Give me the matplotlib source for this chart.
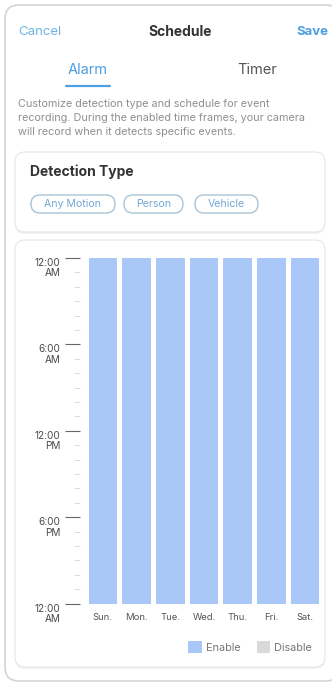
import matplotlib
matplotlib.use('Agg')
import matplotlib.pyplot as plt
from matplotlib.patches import FancyBboxPatch

plt.rcParams['font.family'] = ['Inter', 'DejaVu Sans']

# datos del horario (horas por dia)
days = ['Sun.', 'Mon.', 'Tue.', 'Wed.', 'Thu.', 'Fri.', 'Sat.']
enable_start = [0, 0, 0, 0, 0, 0, 0]
enable_hours = [24, 24, 24, 24, 24, 24, 24]
disable_hours = [0, 0, 0, 0, 0, 0, 0]
hour_ticks = [0, 6, 12, 18, 24]
hour_labels = ['12:00\nAM', '6:00\nAM', '12:00\nPM', '6:00\nPM', '12:00\nAM']
detection_types = ['Any Motion', 'Person', 'Vehicle']

W, H = 332, 684
BLUE = '#4d9fe0'
ENABLE = '#a9c8f8'
DISABLE = '#d9d9d9'

fig = plt.figure(figsize=(W / 100, H / 100), dpi=100)
fig.patch.set_facecolor('white')


def fx(x):
    return x / W


def fy(y):
    return 1 - y / H


def card(x0, y0, x1, y1, r, ec='#e6e6e6', lw=0.8, shadow=True, z=-2):
    # rectangulo redondeado en pixeles (origen arriba)
    if shadow:
        s = FancyBboxPatch((x0 / 100, (H - y1 - 2) / 100), (x1 - x0) / 100, (y1 - y0) / 100,
                           boxstyle='round,pad=0,rounding_size=%f' % (r / 100),
                           transform=fig.dpi_scale_trans, fc='#f2f2f2', ec='none', zorder=z - 0.5)
        fig.patches.append(s)
    p = FancyBboxPatch((x0 / 100, (H - y1) / 100), (x1 - x0) / 100, (y1 - y0) / 100,
                       boxstyle='round,pad=0,rounding_size=%f' % (r / 100),
                       transform=fig.dpi_scale_trans, fc='white', ec=ec, lw=lw, zorder=z)
    fig.patches.append(p)


# marco exterior
card(5, 5, 340, 681, 14, ec='#d4d4d4', lw=1.2, shadow=False, z=-5)
# tarjetas
card(15, 152, 325, 232, 10)
card(15, 240, 325, 667, 10)

# cabecera
fig.text(fx(18), fy(32), 'Cancel', color='#6fb4e8', fontsize=9.5, va='center', ha='left')
fig.text(fx(180), fy(32), 'Schedule', color='#333333', fontsize=10, fontweight='bold', va='center', ha='center')
fig.text(fx(328), fy(32), 'Save', color=BLUE, fontsize=9.5, fontweight='bold', va='center', ha='right')
fig.text(fx(88), fy(70), 'Alarm', color=BLUE, fontsize=10.5, va='center', ha='center')
fig.text(fx(257), fy(70), 'Timer', color='#555555', fontsize=10.5, va='center', ha='center')
fig.add_artist(plt.Line2D([fx(66), fx(110)], [fy(86), fy(86)], color=BLUE, lw=1.6, solid_capstyle='round'))

desc = ['Customize detection type and schedule for event',
        'recording. During the enabled time frames, your camera',
        'will record when it detects specific events.']
for i, line in enumerate(desc):
    fig.text(fx(18), fy(104 + 14 * i), line, color='#8f8f8f', fontsize=7.8, va='center', ha='left')

fig.text(fx(30), fy(172), 'Detection Type', color='#333333', fontsize=10, fontweight='bold', va='center', ha='left')

pill_x = [(31, 115), (124, 183), (195, 258)]
for (a, b), name in zip(pill_x, detection_types):
    p = FancyBboxPatch((a / 100, (H - 213) / 100), (b - a) / 100, 18 / 100,
                       boxstyle='round,pad=0,rounding_size=0.09',
                       transform=fig.dpi_scale_trans, fc='white', ec='#a8c4d4', lw=1.0, zorder=1)
    fig.patches.append(p)
    fig.text(fx((a + b) / 2), fy(204), name, color='#72a9d6', fontsize=7.6, va='center', ha='center')

# grafico del horario
ax = fig.add_axes([fx(86), fy(603.5), 236 / W, 345.5 / H], zorder=2)
x = list(range(len(days)))
ax.bar(x, enable_hours, bottom=enable_start, width=0.85, color=ENABLE, label='Enable')
ax.bar(x, disable_hours, bottom=enable_hours, width=0.85, color=DISABLE, label='Disable')
ax.set_xlim(-0.5, len(days) - 0.5)
ax.set_ylim(24, 0)
ax.patch.set_visible(False)
for s in ['top', 'right', 'bottom']:
    ax.spines[s].set_visible(False)
ax.spines['left'].set_visible(False)
ax.spines['left'].set_position(('outward', 4.3))

ax.set_yticks(hour_ticks)
ax.set_yticklabels(hour_labels, fontsize=7.2, color='#4a4a4a', linespacing=1.05)
for lbl in ax.get_yticklabels():
    lbl.set_verticalalignment('top')
ax.set_yticks(range(25), minor=True)
ax.tick_params(axis='y', which='major', length=10.5, width=0.8, color='#666666', pad=3.5)
ax.tick_params(axis='y', which='minor', length=4, width=0.6, color='#d8d8d8')

ax.set_xticks(x)
ax.set_xticklabels(days, fontsize=6.8, color='#555555')
ax.tick_params(axis='x', length=0, pad=7)

fig.legend(loc='center right', bbox_to_anchor=(fx(316), fy(647)), ncol=2, frameon=False,
           fontsize=7.8, handlelength=1.25, handleheight=1.25, handletextpad=0.35,
           columnspacing=1.5, labelcolor='#777777', borderaxespad=0)

fig.savefig('out.png', dpi=100, facecolor='white')
